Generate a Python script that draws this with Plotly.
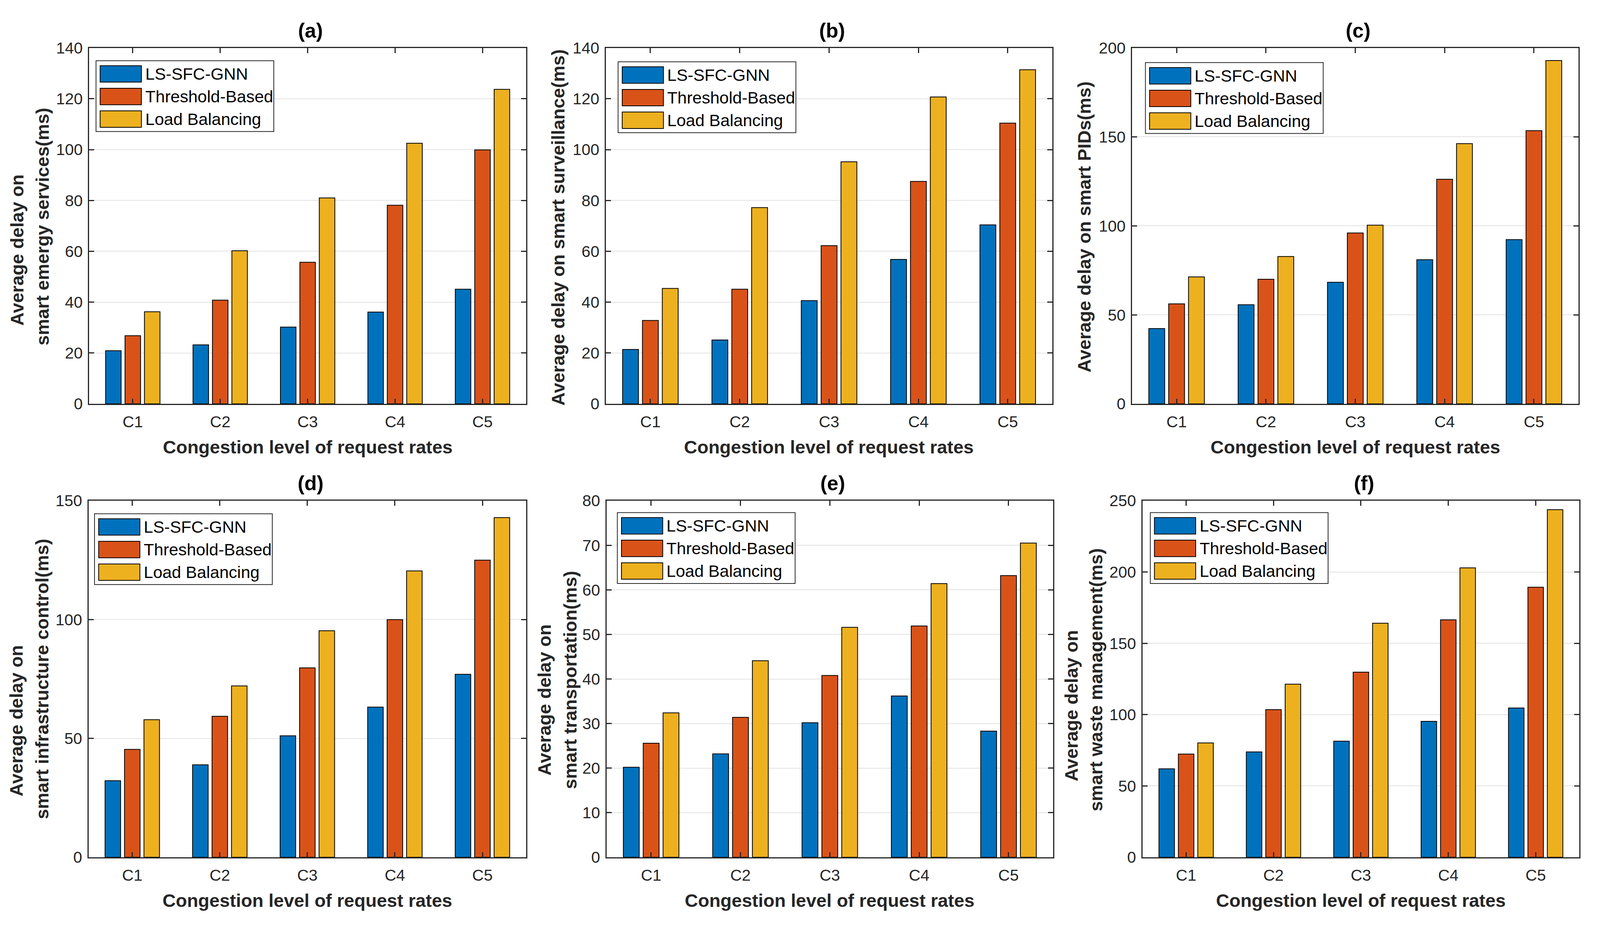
import plotly.graph_objects as go

# ---------------- data ----------------
categories = ["C1", "C2", "C3", "C4", "C5"]
methods = ["LS-SFC-GNN", "Threshold-Based", "Load Balancing"]
colors = ["#0072BD", "#D95319", "#EDB120"]

# (a) smart emergy services
a_ls_sfc_gnn = [20.9, 23.2, 30.2, 36.1, 45.1]
a_threshold = [26.8, 40.8, 55.7, 78.1, 99.9]
a_load_bal = [36.2, 60.2, 81.0, 102.5, 123.7]

# (b) smart surveillance
b_ls_sfc_gnn = [21.4, 25.1, 40.6, 56.8, 70.4]
b_threshold = [32.8, 45.1, 62.2, 87.5, 110.4]
b_load_bal = [45.4, 77.2, 95.2, 120.7, 131.4]

# (c) smart PIDs
c_ls_sfc_gnn = [42.3, 55.7, 68.3, 81.0, 92.3]
c_threshold = [56.2, 70.0, 96.0, 126.2, 153.5]
c_load_bal = [71.3, 82.8, 100.4, 146.2, 192.9]

# (d) smart infrastructure control
d_ls_sfc_gnn = [32.2, 38.9, 51.1, 63.2, 77.0]
d_threshold = [45.4, 59.3, 79.7, 100.0, 125.0]
d_load_bal = [57.9, 72.1, 95.3, 120.5, 142.9]

# (e) smart transportation
e_ls_sfc_gnn = [20.2, 23.2, 30.2, 36.2, 28.3]
e_threshold = [25.6, 31.4, 40.8, 51.9, 63.2]
e_load_bal = [32.4, 44.1, 51.6, 61.4, 70.5]

# (f) smart waste management
f_ls_sfc_gnn = [62.0, 73.9, 81.4, 95.3, 104.7]
f_threshold = [72.4, 103.5, 129.8, 166.5, 189.4]
f_load_bal = [80.2, 121.4, 164.1, 202.9, 243.7]

panel_titles = ["(a)", "(b)", "(c)", "(d)", "(e)", "(f)"]
y_titles = [
    ["Average delay on", "smart emergy services(ms)"],
    ["Average delay on smart surveillance(ms)"],
    ["Average delay on smart PIDs(ms)"],
    ["Average delay on", "smart infrastructure control(ms)"],
    ["Average delay on", "smart transportation(ms)"],
    ["Average delay on", "smart waste management(ms)"],
]
x_title = "Congestion level of request rates"
y_max = [140, 140, 200, 150, 80, 250]
y_step = [20, 20, 50, 50, 10, 50]

series = [
    [a_ls_sfc_gnn, a_threshold, a_load_bal],
    [b_ls_sfc_gnn, b_threshold, b_load_bal],
    [c_ls_sfc_gnn, c_threshold, c_load_bal],
    [d_ls_sfc_gnn, d_threshold, d_load_bal],
    [e_ls_sfc_gnn, e_threshold, e_load_bal],
    [f_ls_sfc_gnn, f_threshold, f_load_bal],
]

# ---------------- layout geometry (reference pixels) ----------------
W, H = 4266, 2371
# axes boxes: left, right, top, bottom
boxes = [
    (237.5, 1403, 101.6, 1031),
    (1615, 2806, 101.6, 1031),
    (3018, 4209, 101.6, 1031),
    (236, 1403, 1284, 2215),
    (1617, 2808, 1284, 2215),
    (3046, 4211, 1284, 2215),
]
legend_pos = [(256, 135), (1648, 138), (3054, 140), (252, 1318), (1646, 1315), (3067, 1315)]
LEG_W, LEG_H = 474, 185
ytitle_pos = [
    [(46, 630), (113, 568)],
    [(1488, 570)],
    [(2891, 569)],
    [(44, 1859), (111, 1750)],
    [(1452, 1805), (1520, 1752)],
    [(2857, 1820), (2921, 1752)],
]

def px(x):
    return x / W

def py(y):
    return 1 - y / H

FONT = "Liberation Sans, Arial, Helvetica, sans-serif"
AX = "#262626"

fig = go.Figure()
shapes = []
annotations = []
layout = {}

for i in range(6):
    n = "" if i == 0 else str(i + 1)
    xa, ya = "x" + n, "y" + n
    for j in range(3):
        fig.add_trace(go.Bar(
            x=categories, y=series[i][j], name=methods[j],
            marker=dict(color=colors[j], line=dict(color="black", width=2)),
            xaxis=xa, yaxis=ya, showlegend=False,
        ))
    l, r, t, b = boxes[i]
    layout["xaxis" + n] = dict(
        domain=[px(l), px(r)], anchor=ya, type="category",
        range=[-0.5, 4.5], showline=True, linecolor=AX, linewidth=3,
        mirror="ticks", ticks="inside", ticklen=13, tickwidth=2.5, tickcolor=AX,
        tickfont=dict(family=FONT, size=41, color=AX), ticklabelstandoff=8,
        showgrid=False, zeroline=False, fixedrange=True,
    )
    layout["yaxis" + n] = dict(
        domain=[py(b), py(t)], anchor=xa, range=[0, y_max[i]], dtick=y_step[i],
        tick0=0, showline=True, linecolor=AX, linewidth=3, mirror="ticks",
        ticks="inside", ticklen=13, tickwidth=2.5, tickcolor=AX,
        tickfont=dict(family=FONT, size=41, color=AX), ticklabelstandoff=5,
        showgrid=True, gridcolor="#E3E3E3", gridwidth=2, zeroline=False,
        fixedrange=True,
    )
    # panel title
    annotations.append(dict(
        text="<b>%s</b>" % panel_titles[i], xref="paper", yref="paper",
        x=px((l + r) / 2 + 8), y=py(t - 46), xanchor="center", yanchor="middle",
        showarrow=False, font=dict(family=FONT, size=52, color="black"),
    ))
    # x title
    annotations.append(dict(
        text="<b>%s</b>" % x_title, xref="paper", yref="paper",
        x=px((l + r) / 2), y=py(b + 113), xanchor="center", yanchor="middle",
        showarrow=False, font=dict(family=FONT, size=47, color=AX),
    ))
    # y title lines
    for line, (cx, cy) in zip(y_titles[i], ytitle_pos[i]):
        annotations.append(dict(
            text="<b>%s</b>" % line, xref="paper", yref="paper",
            x=px(cx), y=py(cy), xanchor="center", yanchor="middle",
            textangle=-90, showarrow=False,
            font=dict(family=FONT, size=47, color=AX),
        ))
    # legend box
    lx, ly = legend_pos[i]
    shapes.append(dict(
        type="rect", xref="paper", yref="paper", layer="above",
        x0=px(lx), x1=px(lx + LEG_W), y0=py(ly + LEG_H), y1=py(ly),
        fillcolor="white", line=dict(color=AX, width=2),
    ))
    for j in range(3):
        sy = ly + 13 + 59 * j
        shapes.append(dict(
            type="rect", xref="paper", yref="paper", layer="above",
            x0=px(lx + 11), x1=px(lx + 121), y0=py(sy + 43), y1=py(sy),
            fillcolor=colors[j], line=dict(color="black", width=2),
        ))
        annotations.append(dict(
            text=methods[j], xref="paper", yref="paper",
            x=px(lx + 129), y=py(sy + 21.5), xanchor="left", yanchor="middle",
            showarrow=False, font=dict(family=FONT, size=43, color="black"),
        ))

fig.update_layout(
    autosize=True,
    margin=dict(l=0, r=0, t=0, b=0, pad=0),
    paper_bgcolor="white", plot_bgcolor="white",
    barmode="group", bargap=1 / 3, bargroupgap=0.2,
    shapes=shapes, annotations=annotations,
    font=dict(family=FONT, color=AX),
    **layout,
)

post = ("document.documentElement.style.margin='0';"
        "document.body.style.margin='0';"
        "document.body.style.overflow='hidden';"
        "Plotly.Plots.resize(document.getElementById('{plot_id}'));")

fig.write_html("out.html", default_width="100vw", default_height="100vh",
               config={"responsive": True, "displayModeBar": False},
               post_script=post)
